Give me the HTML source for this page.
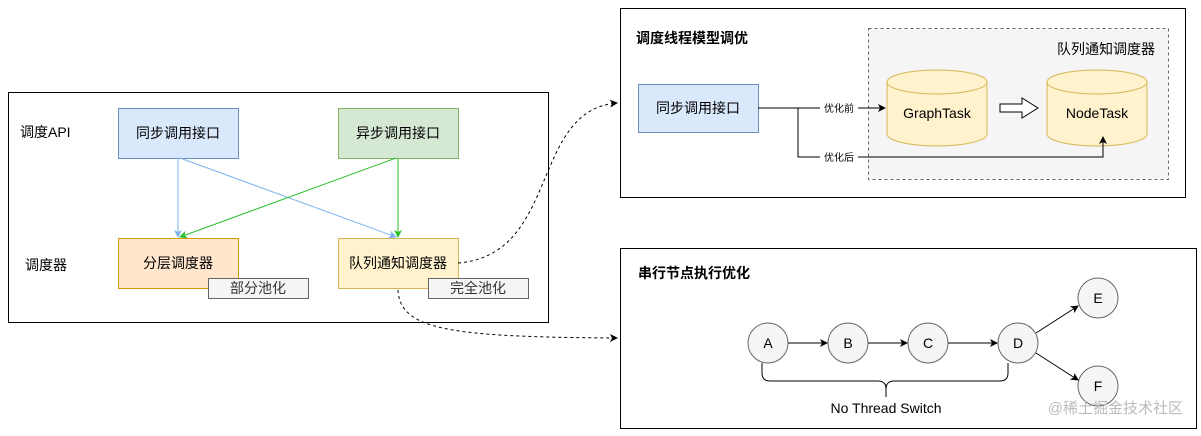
<!DOCTYPE html>
<html><head><meta charset="utf-8"><style>
body{margin:0;background:#fff;}
svg text{font-family:"Liberation Sans","Noto Sans CJK SC",sans-serif;}
</style></head><body>
<svg width="1201" height="431" viewBox="0 0 1201 431" xmlns="http://www.w3.org/2000/svg">
<defs>
<marker id="ab" markerWidth="8" markerHeight="8" refX="7" refY="4" orient="auto" markerUnits="userSpaceOnUse"><path d="M0,0 L8,4 L0,8 L2,4z" fill="#000"/></marker>
<marker id="abl" markerWidth="8" markerHeight="8" refX="7" refY="4" orient="auto" markerUnits="userSpaceOnUse"><path d="M0,0 L8,4 L0,8 L2,4z" fill="#7eb2ee"/></marker>
<marker id="ag" markerWidth="8" markerHeight="8" refX="7" refY="4" orient="auto" markerUnits="userSpaceOnUse"><path d="M0,0 L8,4 L0,8 L2,4z" fill="#2bbf2b"/></marker>
</defs>
<!-- left box -->
<rect x="8.5" y="92.5" width="540" height="230" fill="#fff" stroke="#000"/>
<text x="20" y="137" font-size="14">调度API</text>
<text x="25" y="270" font-size="14">调度器</text>
<rect x="118.5" y="108.5" width="120" height="50" fill="#dae8fc" stroke="#6c8ebf"/>
<text x="178" y="138" font-size="14" text-anchor="middle">同步调用接口</text>
<rect x="338.5" y="108.5" width="120" height="50" fill="#d5e8d4" stroke="#82b366"/>
<text x="398" y="138" font-size="14" text-anchor="middle">异步调用接口</text>
<rect x="118.5" y="238.5" width="120" height="50" fill="#ffe6cc" stroke="#d79b00"/>
<text x="178" y="268" font-size="14" text-anchor="middle">分层调度器</text>
<rect x="338.5" y="238.5" width="120" height="50" fill="#fff2cc" stroke="#d6b656"/>
<text x="398" y="268" font-size="14" text-anchor="middle">队列通知调度器</text>
<rect x="208.5" y="278.5" width="100" height="20" fill="#f5f5f5" stroke="#666"/>
<text x="258" y="293" font-size="14" text-anchor="middle" fill="#333">部分池化</text>
<rect x="428.5" y="278.5" width="100" height="20" fill="#f5f5f5" stroke="#666"/>
<text x="478" y="293" font-size="14" text-anchor="middle" fill="#333">完全池化</text>
<line x1="178" y1="158" x2="178" y2="237" stroke="#7eb2ee" marker-end="url(#abl)"/>
<line x1="180" y1="158" x2="396" y2="237" stroke="#7eb2ee" marker-end="url(#abl)"/>
<line x1="398" y1="158" x2="398" y2="237" stroke="#2bbf2b" marker-end="url(#ag)"/>
<line x1="396" y1="158" x2="180" y2="237" stroke="#2bbf2b" marker-end="url(#ag)"/>
<!-- dotted curves -->
<path d="M458,263 C560,255 530,110 617,103" fill="none" stroke="#000" stroke-dasharray="3,3" marker-end="url(#ab)"/>
<path d="M398,290 C400,330 450,337 617,338" fill="none" stroke="#000" stroke-dasharray="3,3" marker-end="url(#ab)"/>
<!-- top right -->
<rect x="620.5" y="8.5" width="565" height="189" fill="#fff" stroke="#000"/>
<text x="636" y="43" font-size="14" font-weight="bold">调度线程模型调优</text>
<rect x="868.5" y="28.5" width="300" height="151" fill="#f5f5f5" stroke="#666" stroke-dasharray="3,3"/>
<text x="1155" y="54" font-size="14" text-anchor="end">队列通知调度器</text>
<rect x="638.5" y="84.5" width="120" height="48" fill="#dae8fc" stroke="#6c8ebf"/>
<text x="698" y="113" font-size="14" text-anchor="middle">同步调用接口</text>
<g fill="#fff2cc" stroke="#d6b656">
<path d="M887,82 v52 a50,12 0 0 0 100,0 v-52"/>
<ellipse cx="937" cy="82" rx="50" ry="12"/>
<path d="M1047,82 v52 a50,12 0 0 0 100,0 v-52"/>
<ellipse cx="1097" cy="82" rx="50" ry="12"/>
</g>
<text x="937" y="118" font-size="14" text-anchor="middle">GraphTask</text>
<text x="1097" y="118" font-size="14" text-anchor="middle">NodeTask</text>
<path d="M1000,113 h22 v-6 l16,10 l-16,10 v-6 h-22z" transform="translate(0,-9)" fill="#fff" stroke="#000"/>
<line x1="758" y1="108" x2="885" y2="108" stroke="#000" marker-end="url(#ab)"/>
<polyline points="798,108 798,157 1103,157 1103,137" fill="none" stroke="#000" marker-end="url(#ab)"/>
<rect x="820" y="100" width="38" height="14" fill="#fff"/>
<text x="839" y="112" font-size="10" text-anchor="middle">优化前</text>
<rect x="820" y="150" width="38" height="14" fill="#fff"/>
<text x="839" y="161" font-size="10" text-anchor="middle">优化后</text>
<!-- bottom right -->
<rect x="620.5" y="248.5" width="576" height="180" fill="#fff" stroke="#000"/>
<text x="638" y="278" font-size="14" font-weight="bold">串行节点执行优化</text>
<g fill="#f5f5f5" stroke="#666">
<circle cx="768" cy="343" r="20"/><circle cx="848" cy="343" r="20"/><circle cx="928" cy="343" r="20"/>
<circle cx="1018" cy="343" r="20"/><circle cx="1098" cy="298" r="20"/><circle cx="1098" cy="386" r="20"/>
</g>
<g stroke="#000" fill="none">
<line x1="788" y1="343" x2="827" y2="343" marker-end="url(#ab)"/>
<line x1="868" y1="343" x2="907" y2="343" marker-end="url(#ab)"/>
<line x1="948" y1="343" x2="997" y2="343" marker-end="url(#ab)"/>
<line x1="1036" y1="333" x2="1078" y2="306" marker-end="url(#ab)"/>
<line x1="1036" y1="353" x2="1078" y2="380" marker-end="url(#ab)"/>
<path d="M762,363 v10 q0,8 8,8 h108 q8,0 8,8 q0,-8 8,-8 h106 q8,0 8,-8 v-10"/>
<line x1="886" y1="389" x2="886" y2="397"/>
</g>
<g font-size="14" text-anchor="middle">
<text x="768" y="348">A</text><text x="848" y="348">B</text><text x="928" y="348">C</text>
<text x="1018" y="348">D</text><text x="1098" y="303">E</text><text x="1098" y="391">F</text>
<text x="886" y="413">No Thread Switch</text>
</g>
<text x="1183" y="413" font-size="15" text-anchor="end" fill="#bbb">@稀土掘金技术社区</text>
</svg>
</body></html>
